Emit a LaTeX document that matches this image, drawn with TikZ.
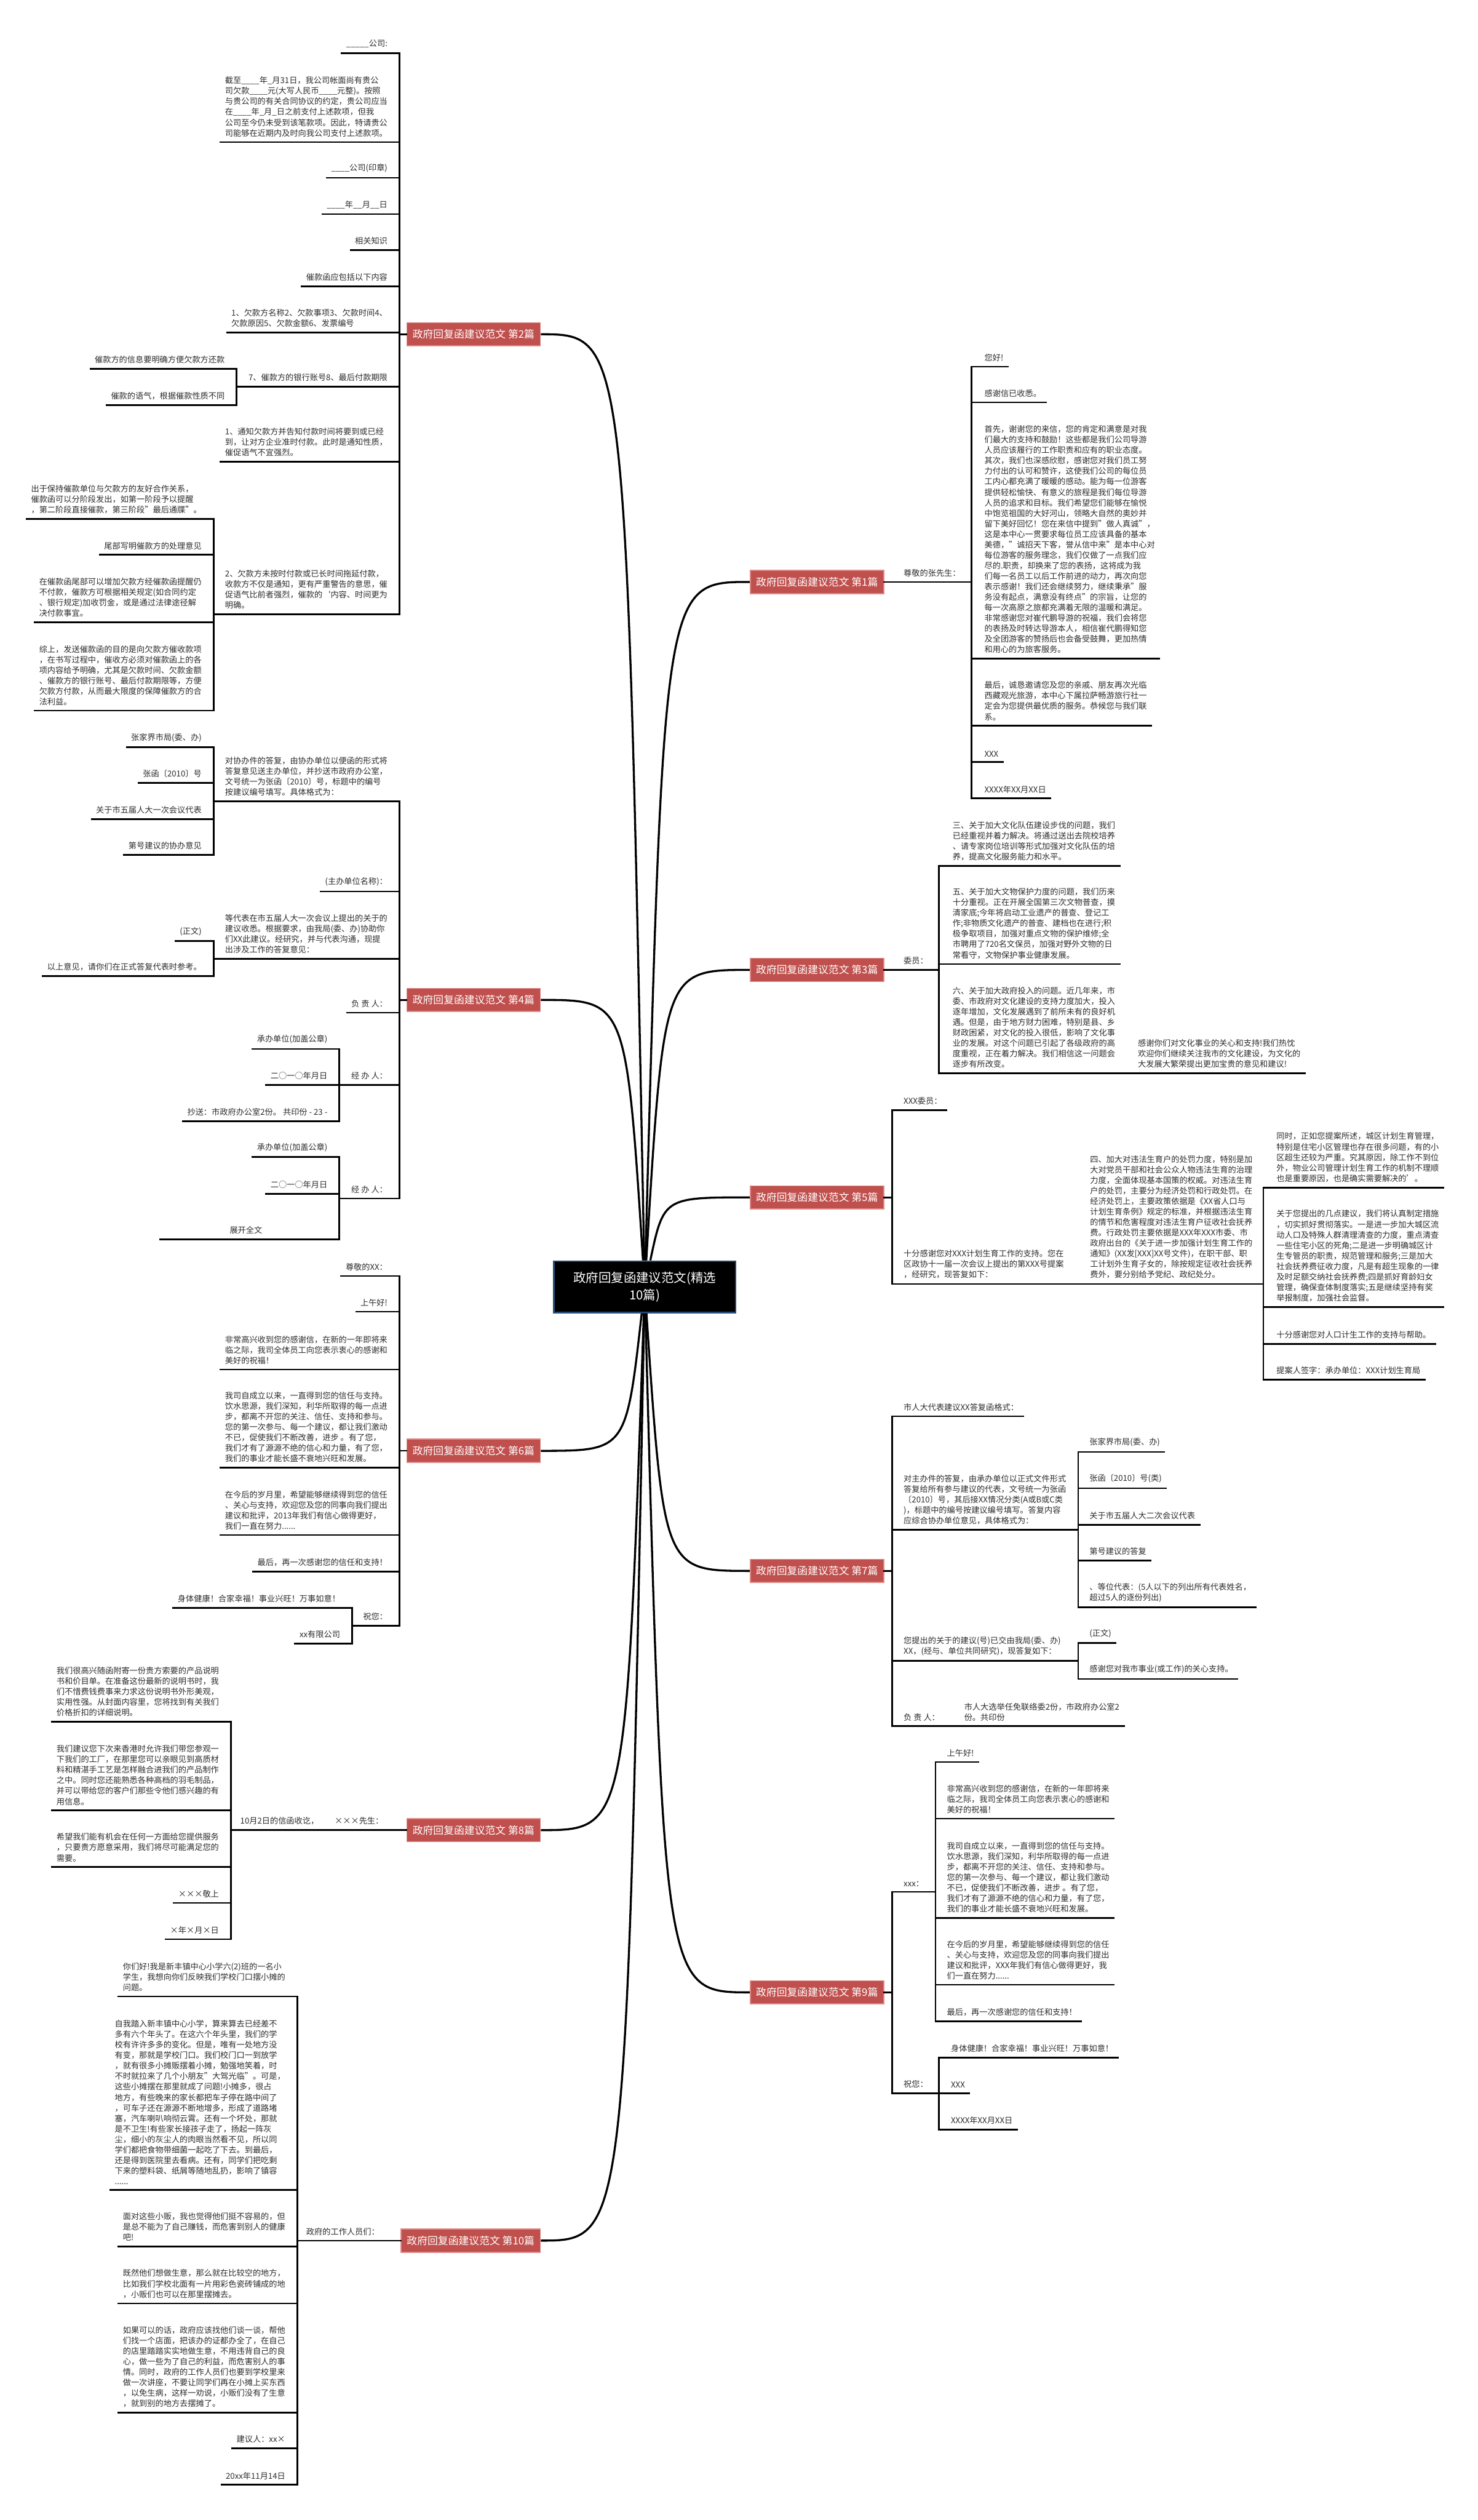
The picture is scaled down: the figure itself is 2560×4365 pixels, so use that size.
\documentclass[tikz,border=0pt]{standalone}
\usepackage{fontspec}
\setmainfont{Noto Sans CJK SC}

% couleurs de la carte
\definecolor{topicred}{RGB}{192,80,77}
\definecolor{topicedge}{RGB}{222,140,138}
\definecolor{rootedge}{RGB}{40,75,125}
\definecolor{leafgray}{RGB}{45,45,45}

\newcommand\leaffont{\fontsize{4pt}{5.17pt}\selectfont}
\newcommand\topicfont{\fontsize{5.1pt}{6pt}\selectfont}
\newcommand\rootfont{\fontsize{6.2pt}{8.4pt}\selectfont}

\tikzset{
  leafl/.style={font=\leaffont, text=leafgray, align=left, inner xsep=0.07cm, inner ysep=0.085cm, anchor=south east},
  leafr/.style={leafl, anchor=south west},
  topicbox/.style={fill=topicred, draw=topicedge, line width=0.5pt, text=white, font=\topicfont, inner xsep=0.1cm, minimum height=0.39cm},
  rootbox/.style={fill=black, draw=rootedge, line width=0.8pt, text=white, font=\rootfont, align=center, minimum width=3.15cm, minimum height=0.89cm},
  lnk/.style={line width=0.8pt, line cap=rect},
  curvelink/.style={line width=1pt}
}

\begin{document}
\begin{tikzpicture}[x=0.01cm, y=-0.01cm]

  \fill[white] (0,0) rectangle (2560,4365);
  \useasboundingbox (0,0) rectangle (2560,4365);

  % ==========================================
  % CENTRE ET BRANCHES PRINCIPALES
  % ==========================================
  \node[rootbox] (root) at (1117,2229) {政府回复函建议范文(精选\\10篇)};

  % branches a gauche
  \node[topicbox, anchor=east] (t2)  at (937,579)  {政府回复函建议范文 第2篇};
  \node[topicbox, anchor=east] (t4)  at (937,1732) {政府回复函建议范文 第4篇};
  \node[topicbox, anchor=east] (t6)  at (937,2513) {政府回复函建议范文 第6篇};
  \node[topicbox, anchor=east] (t8)  at (937,3170) {政府回复函建议范文 第8篇};
  \node[topicbox, anchor=east] (t10) at (937,3881) {政府回复函建议范文 第10篇};

  % branches a droite
  \node[topicbox, anchor=west] (t1) at (1299,1008) {政府回复函建议范文 第1篇};
  \node[topicbox, anchor=west] (t3) at (1299,1680) {政府回复函建议范文 第3篇};
  \node[topicbox, anchor=west] (t5) at (1299,2074) {政府回复函建议范文 第5篇};
  \node[topicbox, anchor=west] (t7) at (1299,2721) {政府回复函建议范文 第7篇};
  \node[topicbox, anchor=west] (t9) at (1299,3451) {政府回复函建议范文 第9篇};

  % courbes depuis le centre
  \draw[curvelink] (root) .. controls (1085,579)  .. (t2.east);
  \draw[curvelink] (root) .. controls (1085,1732) .. (t4.east);
  \draw[curvelink] (root) .. controls (1085,2513) .. (t6.east);
  \draw[curvelink] (root) .. controls (1085,3170) .. (t8.east);
  \draw[curvelink] (root) .. controls (1085,3881) .. (t10.east);
  \draw[curvelink] (root) .. controls (1150,1008) .. (t1.west);
  \draw[curvelink] (root) .. controls (1150,1680) .. (t3.west);
  \draw[curvelink] (root) .. controls (1150,2074) .. (t5.west);
  \draw[curvelink] (root) .. controls (1150,2721) .. (t7.west);
  \draw[curvelink] (root) .. controls (1150,3451) .. (t9.west);

  % ==========================================
  % BRANCHE 2 (催款函)
  % ==========================================
  \coordinate (s2) at (692,579);
  \draw[lnk] (t2.west) -- (s2);
  \node[leafl] (l2a) at (679,92)  {\_\_\_\_\_公司:};
  \node[leafl] (l2b) at (679,246) {截至\_\_\_\_年\_月31日，我公司帐面尚有贵公\\司欠款\_\_\_\_元(大写人民币\_\_\_\_元整)。按照\\与贵公司的有关合同协议的约定，贵公司应当\\在\_\_\_\_年\_月\_日之前支付上述款项，但我\\公司至今仍未受到该笔款项。因此，特请贵公\\司能够在近期内及时向我公司支付上述款项。};
  \node[leafl] (l2c) at (679,308) {\_\_\_\_公司(印章)};
  \node[leafl] (l2d) at (679,371) {\_\_\_\_年\_\_月\_\_日};
  \node[leafl] (l2e) at (679,433) {相关知识};
  \node[leafl] (l2f) at (679,496) {催款函应包括以下内容};
  \node[leafl] (l2g) at (679,576) {1、欠款方名称2、欠款事项3、欠款时间4、\\欠款原因5、欠款金额6、发票编号};
  \node[leafl] (l2h) at (679,670) {7、催款方的银行账号8、最后付款期限};
  \node[leafl] (l2i) at (679,800) {1、通知欠款方并告知付款时间将要到或已经\\到，让对方企业准时付款。此时是通知性质，\\催促语气不宜强烈。};
  \node[leafl] (l2j) at (679,1064) {2、欠款方未按时付款或已长时间拖延付款，\\收款方不仅是通知，更有严重警告的意思，催\\促语气比前者强烈，催款的`内容、时间更为\\明确。};
  \foreach \n in {l2a,l2b,l2c,l2d,l2e,l2f,l2g,l2i}
    \draw[lnk] (\n.south west) -- (\n.south west -| s2);
  \draw[lnk] (l2a.south west -| s2) -- (l2j.south west -| s2);

  % sous-branche 7、
  \coordinate (s2h) at (410,670);
  \draw[lnk] (s2h) -- (s2h -| s2);
  \node[leafl] (l2h1) at (397,639) {催款方的信息要明确方便欠款方还款};
  \node[leafl] (l2h2) at (397,702) {催款的语气，根据催款性质不同};
  \foreach \n in {l2h1,l2h2}
    \draw[lnk] (\n.south west) -- (\n.south west -| s2h);
  \draw[lnk] (l2h1.south west -| s2h) -- (l2h2.south west -| s2h);

  % sous-branche 2、
  \coordinate (s2j) at (370,1064);
  \draw[lnk] (s2j) -- (s2j -| s2);
  \node[leafl] (l2j1) at (357,899)  {出于保持催款单位与欠款方的友好合作关系，\\催款函可以分阶段发出，如第一阶段予以提醒\\，第二阶段直接催款，第三阶段"最后通牒"。};
  \node[leafl] (l2j2) at (357,961)  {尾部写明催款方的处理意见};
  \node[leafl] (l2j3) at (357,1078) {在催款函尾部可以增加欠款方经催款函提醒仍\\不付款，催款方可根据相关规定(如合同约定\\、银行规定)加收罚金，或是通过法律途径解\\决付款事宜。};
  \node[leafl] (l2j4) at (357,1231) {综上，发送催款函的目的是向欠款方催收款项\\，在书写过程中，催收方必须对催款函上的各\\项内容给予明确，尤其是欠款时间、欠款金额\\、催款方的银行账号、最后付款期限等，方便\\欠款方付款，从而最大限度的保障催款方的合\\法利益。};
  \foreach \n in {l2j1,l2j2,l2j3,l2j4}
    \draw[lnk] (\n.south west) -- (\n.south west -| s2j);
  \draw[lnk] (l2j1.south west -| s2j) -- (l2j4.south west -| s2j);

  % ==========================================
  % BRANCHE 4 (协办件)
  % ==========================================
  \coordinate (s4) at (692,1732);
  \draw[lnk] (t4.west) -- (s4);
  \node[leafl] (l4a) at (679,1388) {对协办件的答复，由协办单位以便函的形式将\\答复意见送主办单位，并抄送市政府办公室，\\文号统一为张函〔2010〕号，标题中的编号\\按建议编号填写。具体格式为：};
  \node[leafl] (l4b) at (679,1544) {(主办单位名称)：};
  \node[leafl] (l4c) at (679,1661) {等代表在市五届人大一次会议上提出的关于的\\建议收悉。根据要求，由我局(委、办)协助你\\们XX此建议。经研究，并与代表沟通，现提\\出涉及工作的答复意见：};
  \node[leafl] (l4d) at (679,1754) {负 责 人：};
  \node[leafl] (l4e) at (679,1879) {经 办 人：};
  \node[leafl] (l4f) at (679,2076) {经 办 人：};
  \foreach \n in {l4b,l4d}
    \draw[lnk] (\n.south west) -- (\n.south west -| s4);
  \draw[lnk] (l4a.south west -| s4) -- (l4f.south west -| s4);

  \coordinate (s4a) at (370,1388);
  \draw[lnk] (s4a) -- (s4a -| s4);
  \node[leafl] (l4a1) at (357,1294) {张家界市局(委、办)};
  \node[leafl] (l4a2) at (357,1356) {张函〔2010〕号};
  \node[leafl] (l4a3) at (357,1419) {关于市五届人大一次会议代表};
  \node[leafl] (l4a4) at (357,1481) {第号建议的协办意见};
  \foreach \n in {l4a1,l4a2,l4a3,l4a4}
    \draw[lnk] (\n.south west) -- (\n.south west -| s4a);
  \draw[lnk] (l4a1.south west -| s4a) -- (l4a4.south west -| s4a);

  \coordinate (s4c) at (370,1661);
  \draw[lnk] (s4c) -- (s4c -| s4);
  \node[leafl] (l4c1) at (357,1630) {(正文)};
  \node[leafl] (l4c2) at (357,1691) {以上意见，请你们在正式答复代表时参考。};
  \foreach \n in {l4c1,l4c2}
    \draw[lnk] (\n.south west) -- (\n.south west -| s4c);
  \draw[lnk] (l4c1.south west -| s4c) -- (l4c2.south west -| s4c);

  \coordinate (s4e) at (588,1879);
  \draw[lnk] (s4e) -- (s4e -| s4);
  \node[leafl] (l4e1) at (575,1817) {承办单位(加盖公章)};
  \node[leafl] (l4e2) at (575,1879) {二○一○年月日};
  \node[leafl] (l4e3) at (575,1942) {抄送：市政府办公室2份。 共印份 - 23 -};
  \foreach \n in {l4e1,l4e2,l4e3}
    \draw[lnk] (\n.south west) -- (\n.south west -| s4e);
  \draw[lnk] (l4e1.south west -| s4e) -- (l4e3.south west -| s4e);

  \coordinate (s4f) at (588,2076);
  \draw[lnk] (s4f) -- (s4f -| s4);
  \node[leafl] (l4f1) at (575,2004) {承办单位(加盖公章)};
  \node[leafl] (l4f2) at (575,2068) {二○一○年月日};
  \node[leafl, minimum width=2.96cm] (l4f3) at (575,2147) {展开全文};
  \foreach \n in {l4f1,l4f2,l4f3}
    \draw[lnk] (\n.south west) -- (\n.south west -| s4f);
  \draw[lnk] (l4f1.south west -| s4f) -- (l4f3.south west -| s4f);

  % ==========================================
  % BRANCHE 6 (感谢信回复)
  % ==========================================
  \coordinate (s6) at (692,2513);
  \draw[lnk] (t6.west) -- (s6);
  \node[leafl] (l6a) at (679,2210) {尊敬的XX：};
  \node[leafl] (l6b) at (679,2272) {上午好!};
  \node[leafl] (l6c) at (679,2372) {非常高兴收到您的感谢信，在新的一年即将来\\临之际，我司全体员工向您表示衷心的感谢和\\美好的祝福！};
  \node[leafl] (l6d) at (679,2542) {我司自成立以来，一直得到您的信任与支持。\\饮水思源，我们深知，利华所取得的每一点进\\步，都离不开您的关注、信任、支持和参与。\\您的第一次参与、每一个建议，都让我们激动\\不已，促使我们不断改善，进步 。有了您，\\我们才有了源源不绝的信心和力量，有了您，\\我们的事业才能长盛不衰地兴旺和发展。};
  \node[leafl] (l6e) at (679,2659) {在今后的岁月里，希望能够继续得到您的信任\\、关心与支持，欢迎您及您的同事向我们提出\\建议和批评，2013年我们有信心做得更好，\\我们一直在努力......};
  \node[leafl] (l6f) at (679,2722) {最后，再一次感谢您的信任和支持！};
  \node[leafl] (l6g) at (679,2816) {祝您：};
  \foreach \n in {l6a,l6b,l6c,l6d,l6e,l6f}
    \draw[lnk] (\n.south west) -- (\n.south west -| s6);
  \draw[lnk] (l6a.south west -| s6) -- (l6g.south west -| s6);

  \coordinate (s6g) at (610,2816);
  \draw[lnk] (s6g) -- (s6g -| s6);
  \node[leafl] (l6g1) at (597,2785) {身体健康！合家幸福！事业兴旺！万事如意！};
  \node[leafl] (l6g2) at (597,2847) {xx有限公司};
  \foreach \n in {l6g1,l6g2}
    \draw[lnk] (\n.south west) -- (\n.south west -| s6g);
  \draw[lnk] (l6g1.south west -| s6g) -- (l6g2.south west -| s6g);

  % ==========================================
  % BRANCHE 8 (产品说明书)
  % ==========================================
  \coordinate (s8) at (400,3170);
  \draw[lnk] (t8.west) -- (s8);
  \node[leafl] (l8a) at (672,3170) {×××先生：};
  \node[leafl] (l8b) at (560,3170) {10月2日的信函收讫，};
  \node[leafl] (l8c) at (387,2982) {我们很高兴随函附寄一份贵方索要的产品说明\\书和价目单。在准备这份最新的说明书时，我\\们不惜费钱费事来力求这份说明书外形美观，\\实用性强。从封面内容里，您将找到有关我们\\价格折扣的详细说明。};
  \node[leafl] (l8d) at (387,3136) {我们建议您下次来香港时允许我们带您参观一\\下我们的工厂，在那里您可以亲眼见到高质材\\料和精湛手工艺是怎样融合进我们的产品制作\\之中。同时您还能熟悉各种高档的羽毛制品，\\并可以带给您的客户们那些令他们感兴趣的有\\用信息。};
  \node[leafl] (l8e) at (387,3234) {希望我们能有机会在任何一方面给您提供服务\\，只要贵方愿意采用，我们将尽可能满足您的\\需要。};
  \node[leafl] (l8f) at (387,3296) {×××敬上};
  \node[leafl] (l8g) at (387,3359) {×年×月×日};
  \foreach \n in {l8c,l8d,l8e,l8f,l8g}
    \draw[lnk] (\n.south west) -- (\n.south west -| s8);
  \draw[lnk] (l8c.south west -| s8) -- (l8g.south west -| s8);

  % ==========================================
  % BRANCHE 10 (小学生来信)
  % ==========================================
  \coordinate (s10) at (515,3881);
  \draw[lnk] (t10.west) -- (s10);
  \node[leafl] (l10a) at (665,3881) {政府的工作人员们：};
  \node[leafl] (l10b) at (502,3458) {你们好!我是新丰镇中心小学六(2)班的一名小\\学生，我想向你们反映我们学校门口摆小摊的\\问题。};
  \node[leafl] (l10c) at (502,3793) {自我踏入新丰镇中心小学，算来算去已经差不\\多有六个年头了。在这六个年头里，我们的学\\校有许许多多的变化。但是，唯有一处地方没\\有变，那就是学校门口。我们校门口一到放学\\，就有很多小摊贩摆着小摊，勉强地笑着，时\\不时就拉来了几个小朋友"大驾光临"。可是，\\这些小摊摆在那里就成了问题!小摊多，很占\\地方，有些晚来的家长都把车子停在路中间了\\，可车子还在源源不断地增多，形成了道路堵\\塞，汽车喇叭响彻云霄。还有一个坏处，那就\\是不卫生!有些家长接孩子走了，扬起一阵灰\\尘，细小的灰尘人的肉眼当然看不见，所以同\\学们都把食物带细菌一起吃了下去。到最后，\\还是得到医院里去看病。还有，同学们把吃剩\\下来的塑料袋、纸屑等随地乱扔，影响了镇容\\......};
  \node[leafl] (l10d) at (502,3891) {面对这些小贩，我也觉得他们挺不容易的，但\\是总不能为了自己赚钱，而危害到别人的健康\\吧!};
  \node[leafl] (l10e) at (502,3990) {既然他们想做生意，那么就在比较空的地方，\\比如我们学校北面有一片用彩色瓷砖铺成的地\\，小贩们也可以在那里摆摊去。};
  \node[leafl] (l10f) at (502,4179) {如果可以的话，政府应该找他们谈一谈，帮他\\们找一个店面，把该办的证都办全了，在自己\\的店里踏踏实实地做生意，不用违背自己的良\\心，做一些为了自己的利益，而危害别人的事\\情。同时，政府的工作人员们也要到学校里来\\做一次讲座，不要让同学们再在小摊上买东西\\，以免生病，这样一劝说，小贩们没有了生意\\，就到别的地方去摆摊了。};
  \node[leafl] (l10g) at (502,4241) {建议人：xx×};
  \node[leafl] (l10h) at (502,4304) {20xx年11月14日};
  \foreach \n in {l10b,l10c,l10d,l10e,l10f,l10g,l10h}
    \draw[lnk] (\n.south west) -- (\n.south west -| s10);
  \draw[lnk] (l10b.south west -| s10) -- (l10h.south west -| s10);

  % ==========================================
  % BRANCHE 1 (导游感谢信)
  % ==========================================
  \coordinate (s1) at (1683,1008);
  \draw[lnk] (t1.east) -- (s1);
  \node[leafr] (r1a) at (1558,1008) {尊敬的张先生：};
  \node[leafr] (r1b) at (1698,635)  {您好!};
  \node[leafr] (r1c) at (1698,697)  {感谢信已收悉。};
  \node[leafr] (r1d) at (1698,1141) {首先，谢谢您的来信，您的肯定和满意是对我\\们最大的支持和鼓励！这些都是我们公司导游\\人员应该履行的工作职责和应有的职业态度。\\其次，我们也深感欣慰，感谢您对我们员工努\\力付出的认可和赞许，这使我们公司的每位员\\工内心都充满了暖暖的感动。能为每一位游客\\提供轻松愉快、有意义的旅程是我们每位导游\\人员的追求和目标。我们希望您们能够在愉悦\\中饱览祖国的大好河山，领略大自然的奥妙并\\留下美好回忆！您在来信中提到"做人真诚"，\\这是本中心一贯要求每位员工应该具备的基本\\美德，"诚招天下客，誉从信中来"是本中心对\\每位游客的服务理念，我们仅做了一点我们应\\尽的.职责，却换来了您的表扬，这将成为我\\们每一名员工以后工作前进的动力，再次向您\\表示感谢！我们还会继续努力，继续秉承"服\\务没有起点，满意没有终点"的宗旨，让您的\\每一次高原之旅都充满着无限的温暖和满足。\\非常感谢您对崔代鹏导游的祝福，我们会将您\\的表扬及时转达导游本人，相信崔代鹏得知您\\及全团游客的赞扬后也会备受鼓舞，更加热情\\和用心的为旅客服务。};
  \node[leafr] (r1e) at (1698,1257) {最后，诚恳邀请您及您的亲戚、朋友再次光临\\西藏观光旅游，本中心下属拉萨畅游旅行社一\\定会为您提供最优质的服务。恭候您与我们联\\系。};
  \node[leafr] (r1f) at (1698,1320) {XXX};
  \node[leafr] (r1g) at (1698,1383) {XXXX年XX月XX日};
  \foreach \n in {r1b,r1c,r1d,r1e,r1f,r1g}
    \draw[lnk] (\n.south west -| s1) -- (\n.south east);
  \draw[lnk] (r1b.south west -| s1) -- (r1g.south west -| s1);

  % ==========================================
  % BRANCHE 3 (文化建设)
  % ==========================================
  \coordinate (s3) at (1627,1680);
  \draw[lnk] (t3.east) -- (s3);
  \node[leafr] (r3a) at (1558,1680) {委员：};
  \node[leafr] (r3b) at (1643,1500) {三、关于加大文化队伍建设步伐的问题，我们\\已经重视并着力解决。将通过送出去院校培养\\、请专家岗位培训等形式加强对文化队伍的培\\养，提高文化服务能力和水平。};
  \node[leafr] (r3c) at (1643,1670) {五、关于加大文物保护力度的问题，我们历来\\十分重视。正在开展全国第三次文物普查，摸\\清家底;今年将启动工业遗产的普查、登记工\\作;非物质文化遗产的普查、建档也在进行;积\\极争取项目，加强对重点文物的保护维修;全\\市聘用了720名文保员，加强对野外文物的日\\常看守，文物保护事业健康发展。};
  \node[leafr] (r3d) at (1643,1859) {六、关于加大政府投入的问题。近几年来，市\\委、市政府对文化建设的支持力度加大，投入\\逐年增加，文化发展遇到了前所未有的良好机\\遇。但是，由于地方财力困难，特别是县、乡\\财政困紧，对文化的投入很低，影响了文化事\\业的发展。对这个问题已引起了各级政府的高\\度重视，正在着力解决。我们相信这一问题会\\逐步有所改变。};
  \node[leafr] (r3e) at (1964,1859) {感谢你们对文化事业的关心和支持!我们热忱\\欢迎你们继续关注我市的文化建设，为文化的\\大发展大繁荣提出更加宝贵的意见和建议!};
  \foreach \n in {r3b,r3c}
    \draw[lnk] (\n.south west -| s3) -- (\n.south east);
  \draw[lnk] (r3d.south west -| s3) -- (r3e.south east);
  \draw[lnk] (r3b.south west -| s3) -- (r3d.south west -| s3);

  % ==========================================
  % BRANCHE 5 (计划生育提案)
  % ==========================================
  \coordinate (s5) at (1546,2074);
  \draw[lnk] (t5.east) -- (s5);
  \node[leafr] (r5a) at (1558,1923) {XXX委员：};
  \node[leafr] (r5b) at (1558,2224) {十分感谢您对XXX计划生育工作的支持。您在\\区政协十一届一次会议上提出的第XXX号提案\\，经研究，现答复如下：};
  \node[leafr] (r5c) at (1881,2224) {四、加大对违法生育户的处罚力度，特别是加\\大对党员干部和社会公众人物违法生育的治理\\力度，全面体现基本国策的权威。对违法生育\\户的处罚，主要分为经济处罚和行政处罚。在\\经济处罚上，主要政策依据是《XX省人口与\\计划生育条例》规定的标准，并根据违法生育\\的情节和危害程度对违法生育户征收社会抚养\\费。行政处罚主要依据是XXX年XXX市委、市\\政府出台的《关于进一步加强计划生育工作的\\通知》(XX发[XXX]XX号文件)，在职干部、职\\工计划外生育子女的，除按规定征收社会抚养\\费外，要分别给予党纪、政纪处分。};
  \draw[lnk] (r5a.south west -| s5) -- (r5a.south east);
  \draw[lnk] (r5a.south west -| s5) -- (r5b.south west -| s5);

  \coordinate (s5c) at (2189,2224);
  \draw[lnk] (r5b.south west -| s5) -- (s5c);
  \node[leafr] (r5c1) at (2204,2057) {同时，正如您提案所述，城区计划生育管理，\\特别是住宅小区管理也存在很多问题，有的小\\区超生还较为严重。究其原因，除工作不到位\\外，物业公司管理计划生育工作的机制不理顺\\也是重要原因，也是确实需要解决的'。};
  \node[leafr] (r5c2) at (2204,2264) {关于您提出的几点建议，我们将认真制定措施\\，切实抓好贯彻落实。一是进一步加大城区流\\动人口及特殊人群清理清查的力度，重点清查\\一些住宅小区的死角;二是进一步明确城区计\\生专管员的职责，规范管理和服务;三是加大\\社会抚养费征收力度，凡是有超生现象的一律\\及时足额交纳社会抚养费;四是抓好育龄妇女\\管理，确保查体制度落实;五是继续坚持有奖\\举报制度，加强社会监督。};
  \node[leafr] (r5c3) at (2204,2328) {十分感谢您对人口计生工作的支持与帮助。};
  \node[leafr] (r5c4) at (2204,2390) {提案人签字：承办单位：XXX计划生育局};
  \foreach \n in {r5c1,r5c2,r5c3,r5c4}
    \draw[lnk] (\n.south west -| s5c) -- (\n.south east);
  \draw[lnk] (r5c1.south west -| s5c) -- (r5c4.south west -| s5c);

  % ==========================================
  % BRANCHE 7 (答复函格式)
  % ==========================================
  \coordinate (s7) at (1546,2721);
  \draw[lnk] (t7.east) -- (s7);
  \node[leafr] (r7a) at (1558,2453) {市人大代表建议XX答复函格式：};
  \node[leafr] (r7b) at (1558,2650) {对主办件的答复，由承办单位以正式文件形式\\答复给所有参与建议的代表，文号统一为张函\\〔2010〕号，其后接XX情况分类(A或B或C类\\)，标题中的编号按建议编号填写。答复内容\\应综合协办单位意见，具体格式为：};
  \node[leafr] (r7c) at (1558,2877) {您提出的关于的建议(号)已交由我局(委、办)\\XX，(经与、单位共同研究)，现答复如下：};
  \node[leafr] (r7d) at (1558,2990) {负 责 人：};
  \node[leafr] (r7e) at (1663,2990) {市人大选举任免联络委2份，市政府办公室2\\份。共印份};
  \draw[lnk] (r7a.south west -| s7) -- (r7a.south east);
  \draw[lnk] (r7d.south west -| s7) -- (r7e.south east);
  \draw[lnk] (r7a.south west -| s7) -- (r7d.south west -| s7);

  \coordinate (s7b) at (1868,2650);
  \draw[lnk] (r7b.south west -| s7) -- (s7b);
  \node[leafr] (r7b1) at (1880,2515) {张家界市局(委、办)};
  \node[leafr] (r7b2) at (1880,2578) {张函〔2010〕号(类)};
  \node[leafr] (r7b3) at (1880,2641) {关于市五届人大二次会议代表};
  \node[leafr] (r7b4) at (1880,2703) {第号建议的答复};
  \node[leafr] (r7b5) at (1880,2784) {、等位代表：(5人以下的列出所有代表姓名，\\超过5人的逐份列出)};
  \foreach \n in {r7b1,r7b2,r7b3,r7b4,r7b5}
    \draw[lnk] (\n.south west -| s7b) -- (\n.south east);
  \draw[lnk] (r7b1.south west -| s7b) -- (r7b5.south west -| s7b);

  \coordinate (s7c) at (1868,2877);
  \draw[lnk] (r7c.south west -| s7) -- (s7c);
  \node[leafr] (r7c1) at (1880,2846) {(正文)};
  \node[leafr] (r7c2) at (1880,2908) {感谢您对我市事业(或工作)的关心支持。};
  \foreach \n in {r7c1,r7c2}
    \draw[lnk] (\n.south west -| s7c) -- (\n.south east);
  \draw[lnk] (r7c1.south west -| s7c) -- (r7c2.south west -| s7c);

  % ==========================================
  % BRANCHE 9 (感谢信回复)
  % ==========================================
  \coordinate (s9) at (1546,3451);
  \draw[lnk] (t9.east) -- (s9);
  \node[leafr] (r9a) at (1558,3277) {xxx：};
  \node[leafr] (r9b) at (1558,3626) {祝您：};
  \draw[lnk] (r9a.south west -| s9) -- (r9b.south west -| s9);

  \coordinate (s9a) at (1621,3277);
  \draw[lnk] (r9a.south west -| s9) -- (s9a);
  \node[leafr] (r9a1) at (1633,3052) {上午好!};
  \node[leafr] (r9a2) at (1633,3150) {非常高兴收到您的感谢信，在新的一年即将来\\临之际，我司全体员工向您表示衷心的感谢和\\美好的祝福！};
  \node[leafr] (r9a3) at (1633,3322) {我司自成立以来，一直得到您的信任与支持。\\饮水思源，我们深知，利华所取得的每一点进\\步，都离不开您的关注、信任、支持和参与。\\您的第一次参与、每一个建议，都让我们激动\\不已，促使我们不断改善，进步 。有了您，\\我们才有了源源不绝的信心和力量，有了您，\\我们的事业才能长盛不衰地兴旺和发展。};
  \node[leafr] (r9a4) at (1633,3438) {在今后的岁月里，希望能够继续得到您的信任\\、关心与支持，欢迎您及您的同事向我们提出\\建议和批评，XXX年我们有信心做得更好，我\\们一直在努力......};
  \node[leafr] (r9a5) at (1633,3501) {最后，再一次感谢您的信任和支持！};
  \foreach \n in {r9a1,r9a2,r9a3,r9a4,r9a5}
    \draw[lnk] (\n.south west -| s9a) -- (\n.south east);
  \draw[lnk] (r9a1.south west -| s9a) -- (r9a5.south west -| s9a);

  \coordinate (s9b) at (1627,3626);
  \node[leafr] (r9b1) at (1640,3564) {身体健康！合家幸福！事业兴旺！万事如意！};
  \node[leafr] (r9b2) at (1640,3626) {XXX};
  \node[leafr] (r9b3) at (1640,3689) {XXXX年XX月XX日};
  \draw[lnk] (r9b.south west -| s9) -- (r9b2.south east);
  \foreach \n in {r9b1,r9b3}
    \draw[lnk] (\n.south west -| s9b) -- (\n.south east);
  \draw[lnk] (r9b1.south west -| s9b) -- (r9b3.south west -| s9b);

\end{tikzpicture}
\end{document}
